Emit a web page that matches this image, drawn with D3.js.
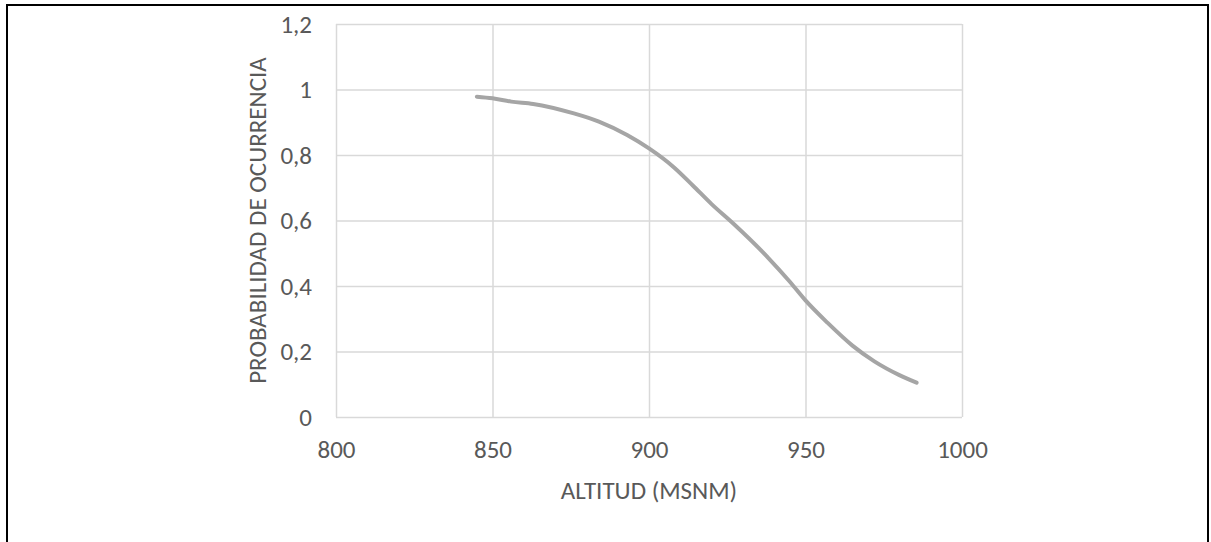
<!DOCTYPE html>
<html>
<head>
<meta charset="utf-8">
<script src="https://cdn.jsdelivr.net/npm/d3@7"></script>
<style>
  body { margin: 0; background: #fff; }
  .grid line { stroke: #d9d9d9; stroke-width: 1.5; }
  .grid path { display: none; }
  .tick text { fill: #595959; font-family: Calibri, Carlito, "Open Sans", sans-serif; font-size: 25px; }
  .axis-title { fill: #595959; font-family: Calibri, Carlito, "Open Sans", sans-serif; font-size: 25px; }
</style>
</head>
<body>
<div id="chart"></div>
<script>
// data
var altitud = [845, 850, 856, 863, 876, 884, 893, 900, 908, 914, 920, 927, 938, 945, 950, 957, 965, 972, 980, 985.5];
var probabilidad = [0.978, 0.973, 0.963, 0.956, 0.927, 0.902, 0.861, 0.820, 0.762, 0.707, 0.650, 0.590, 0.487, 0.413, 0.356, 0.288, 0.218, 0.170, 0.128, 0.105];
var xTicks = [800, 850, 900, 950, 1000];
var yTicks = [0, 0.2, 0.4, 0.6, 0.8, 1, 1.2];
var xTitle = 'ALTITUD (MSNM)';
var yTitle = 'PROBABILIDAD DE OCURRENCIA';

var W = 1211, H = 542;
var margin = {top: 24, right: 249, bottom: 125, left: 336},
    width = W - margin.left - margin.right,
    height = H - margin.top - margin.bottom;

var data = altitud.map(function(a, i) { return {alt: a, p: probabilidad[i]}; });

var x = d3.scaleLinear().domain([800, 1000]).range([0, width]);
var y = d3.scaleLinear().domain([0, 1.2]).range([height, 0]);

var svgRoot = d3.select("#chart").append("svg")
    .attr("width", W)
    .attr("height", H);

// outer frame (bottom edge falls outside the picture)
svgRoot.append("rect")
    .attr("x", 7).attr("y", 5)
    .attr("width", 1201).attr("height", 560)
    .attr("fill", "none")
    .attr("stroke", "#000")
    .attr("stroke-width", 2);

var svg = svgRoot.append("g")
    .attr("transform", "translate(" + margin.left + "," + margin.top + ")");

var fmt = function(d) { return String(d).replace('.', ','); };

// vertical grid
svg.append("g")
    .attr("class", "grid x")
    .attr("transform", "translate(0," + height + ")")
    .call(d3.axisBottom(x).tickValues(xTicks).tickSize(-height).tickFormat(""));

// horizontal grid
svg.append("g")
    .attr("class", "grid y")
    .call(d3.axisLeft(y).tickValues(yTicks).tickSize(-width).tickFormat(""));

// x tick labels
svg.append("g")
    .attr("transform", "translate(0," + height + ")")
    .call(d3.axisBottom(x).tickValues(xTicks).tickSize(0).tickPadding(23).tickFormat(function(d) { return d; }))
    .call(function(g) { g.select(".domain").remove(); });

// y tick labels
svg.append("g")
    .call(d3.axisLeft(y).tickValues(yTicks).tickSize(0).tickPadding(24).tickFormat(fmt))
    .call(function(g) { g.select(".domain").remove(); });

// the curve
var valueline = d3.line()
    .x(function(d) { return x(d.alt); })
    .y(function(d) { return y(d.p); })
    .curve(d3.curveMonotoneX);

svg.append("path")
    .attr("d", valueline(data))
    .attr("fill", "none")
    .attr("stroke", "#a5a5a5")
    .attr("stroke-width", 4)
    .attr("stroke-linecap", "round");

// axis titles
svg.append("text")
    .attr("class", "axis-title")
    .attr("x", width / 2)
    .attr("y", height + 82)
    .attr("text-anchor", "middle")
    .text(xTitle);

svg.append("text")
    .attr("class", "axis-title")
    .attr("transform", "translate(" + (-70) + "," + (height / 2) + ") rotate(-90)")
    .attr("text-anchor", "middle")
    .text(yTitle);
</script>
</body>
</html>
